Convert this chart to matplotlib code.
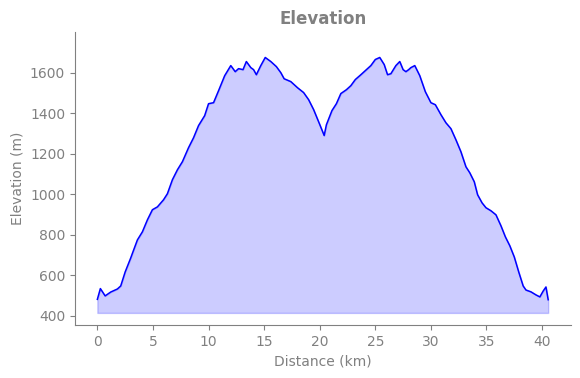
import numpy as np
import matplotlib
matplotlib.use('Agg')
import matplotlib.pyplot as plt

# distance (km) / elevation (m) read from the profile
distance = [0.0, 0.27, 0.7, 1.2, 1.8, 2.1, 2.5, 3.0, 3.2, 3.6, 4.05, 4.5, 4.95, 5.4,
            5.95, 6.3, 6.75, 7.2, 7.65, 8.2, 8.65, 9.1, 9.65, 10.0, 10.45, 10.9,
            11.45, 12.0, 12.4, 12.7, 13.1, 13.4, 13.8, 14.05, 14.3, 14.7, 15.1,
            15.6, 16.1, 16.5, 16.8, 17.4, 18.0, 18.55, 19.0, 19.45, 19.9, 20.3,
            20.4, 20.6, 21.1, 21.5, 21.9, 22.4, 22.8, 23.2, 23.7, 24.1, 24.6,
            25.0, 25.4, 25.8, 26.1, 26.4, 26.85, 27.2, 27.5, 27.75, 28.0, 28.2,
            28.55, 29.0, 29.5, 30.0, 30.4, 30.9, 31.35, 31.8, 32.25, 32.7, 33.15,
            33.5, 33.9, 34.2, 34.6, 34.95, 35.4, 35.85, 36.3, 36.7, 37.1, 37.5,
            37.9, 38.3, 38.55, 39.0, 39.45, 39.8, 40.1, 40.35, 40.55]
elevation = [482, 535, 499, 518, 533, 548, 617, 686, 716, 775, 815, 874, 924, 938,
             973, 1003, 1072, 1121, 1161, 1230, 1279, 1339, 1388, 1447, 1452, 1511,
             1585, 1635, 1605, 1620, 1615, 1655, 1625, 1615, 1590, 1635, 1675,
             1655, 1630, 1600, 1570, 1556, 1526, 1502, 1467, 1418, 1358, 1304,
             1290, 1343, 1413, 1447, 1497, 1516, 1536, 1566, 1590, 1610, 1635,
             1665, 1675, 1640, 1590, 1595, 1635, 1655, 1615, 1605, 1615, 1625,
             1635, 1585, 1506, 1452, 1442, 1393, 1353, 1324, 1269, 1210, 1136,
             1106, 1062, 998, 958, 934, 919, 899, 845, 790, 746, 691,
             617, 548, 528, 519, 504, 494, 523, 543, 480]
base_elev = 415

grey = '#808080'

fig = plt.figure(figsize=(5.8, 3.78), dpi=100)
ax = fig.add_axes([0.129, 0.140, 0.855, 0.775])

ax.plot(distance, elevation, color='blue', linewidth=1.1)
ax.fill_between(distance, elevation, base_elev, color='blue', alpha=0.2)

ax.set_ylim(355, 1800)
ax.set_yticks([400, 600, 800, 1000, 1200, 1400, 1600])
ax.set_xticks([0, 5, 10, 15, 20, 25, 30, 35, 40])

ax.set_title('Elevation', color=grey, fontweight='bold', fontsize=12)
ax.set_xlabel('Distance (km)', color=grey, fontsize=10)
ax.set_ylabel('Elevation (m)', color=grey, fontsize=10)

for s in ['top', 'right']:
    ax.spines[s].set_visible(False)
for s in ['left', 'bottom']:
    ax.spines[s].set_color(grey)
ax.tick_params(colors=grey, labelcolor=grey, labelsize=10)

fig.savefig('out.png', dpi=100)
